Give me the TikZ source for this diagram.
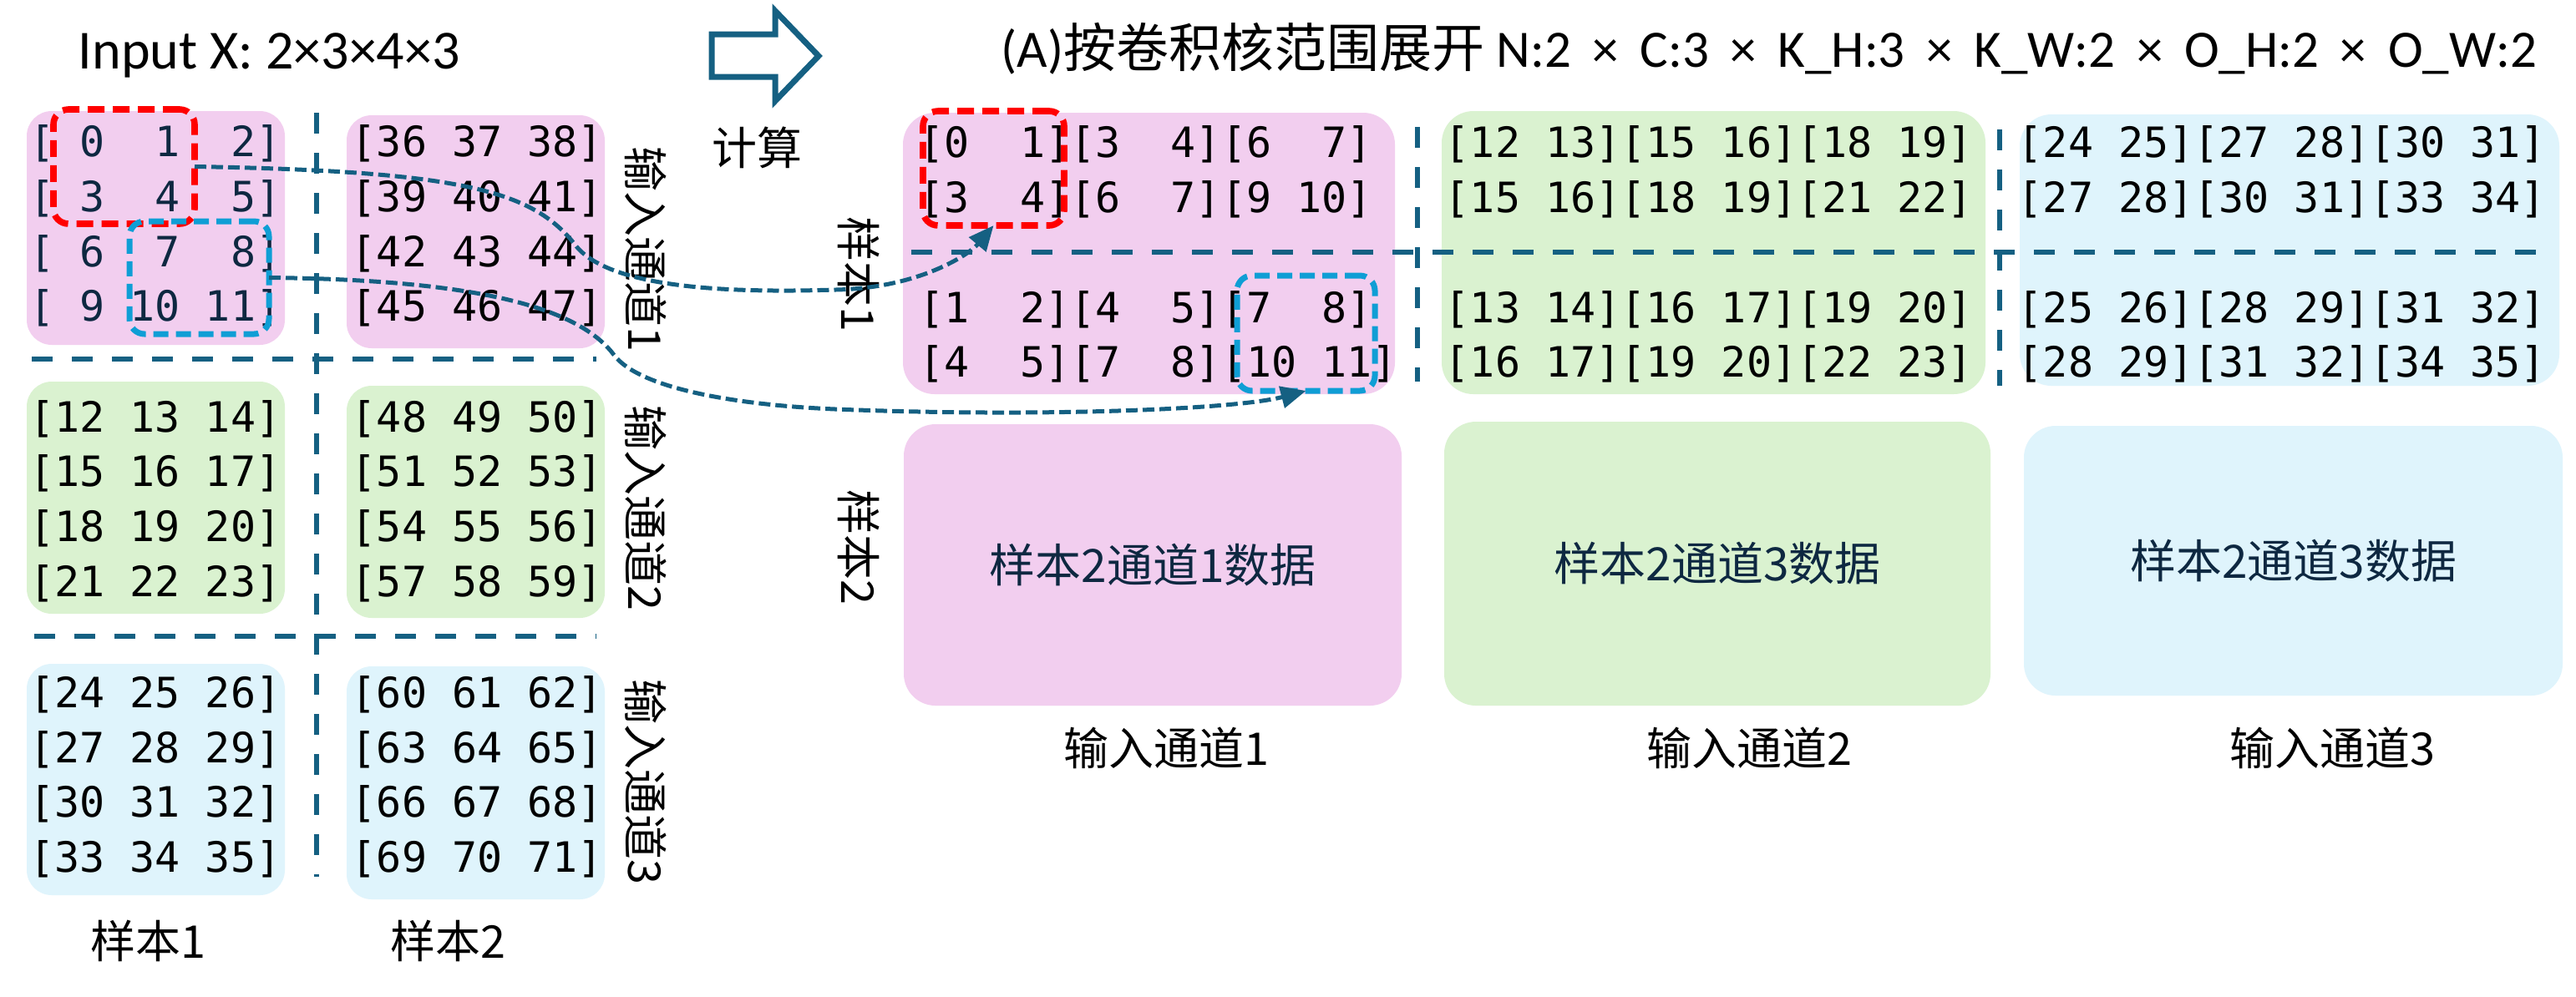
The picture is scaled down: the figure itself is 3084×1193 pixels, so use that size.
\documentclass[tikz,border=0pt]{standalone}
\usepackage{fontspec}
\setmainfont{Carlito}
\setmonofont{DejaVu Sans Mono}
\newfontfamily\cjk{Noto Sans CJK SC}
\newfontfamily\titlefont{Carlito}[WordSpace=1.8]
\usetikzlibrary{arrows.meta}
\definecolor{teal1}{HTML}{156082}
\definecolor{navy}{HTML}{0E2841}
\definecolor{pinkf}{HTML}{F2CEEF}
\definecolor{greenf}{HTML}{DAF2D0}
\definecolor{bluef}{HTML}{DFF4FC}
\definecolor{redd}{HTML}{FF0000}
\definecolor{blued}{HTML}{0F9ED5}
% name, style, x1, y1, x2, y2, text
\newcommand\pxbox[7]{%
  \node[#2, minimum width={(#5-#3)*0.25pt}, minimum height={(#6-#4)*0.25pt}] (#1) at ({(#3+#5)/2},{(#4+#6)/2}) {#7};}
\newcommand\mrow[4]{\node[mtx] (#1) at (#2,#3) {#4};}
\tikzset{
  lbox/.style={rectangle, rounded corners=7.5pt, inner sep=0pt, outer sep=0pt, draw=none},
  rbox/.style={rectangle, rounded corners=9.5pt, inner sep=0pt, outer sep=0pt, draw=none,
    text=navy, font=\cjk\fontsize{13.75}{16}\selectfont},
  redbox/.style={rectangle, rounded corners=4.5pt, draw=redd, line width=1.9pt,
    dash pattern=on 5pt off 2.5pt, inner sep=0pt, outer sep=0pt},
  bluebox/.style={rectangle, rounded corners=4.5pt, draw=blued, line width=1.75pt,
    dash pattern=on 4.5pt off 2.25pt, inner sep=0pt, outer sep=0pt},
  sepline/.style={draw=teal1, line width=1.5pt, dash pattern=on 6.25pt off 5.75pt},
  conn/.style={draw=teal1, line width=1.25pt, dash pattern=on 3.5pt off 1.5pt,
    -{Triangle[length=7.5pt,width=6.5pt]}},
  mtx/.style={font=\ttfamily\fontsize{12.5}{15}\selectfont, inner sep=0pt, anchor=west},
  lab/.style={font=\cjk\fontsize{13.5}{16}\selectfont, inner sep=0pt},
}
\begin{document}
\begin{tikzpicture}[x=0.25pt, y=-0.25pt]
\useasboundingbox (0,0) rectangle (3084,1193);
\fill[white] (0,0) rectangle (3084,1193);

% ---- titles ----
\node[anchor=base west, inner sep=0pt] (inputx) at (93,82)
  {\fontsize{16.5}{19}\selectfont Input X: 2×3×4×3};
\node[anchor=base west, inner sep=0pt] (title) at (1198,80)
  {\titlefont\fontsize{15.75}{18}\selectfont (A){\cjk\fontsize{15.75}{18}\selectfont 按卷积核范围展开}\hspace{3.5pt}N:2 × C:3 × K\_H:3 × K\_W:2 × O\_H:2 × O\_W:2};

% hollow arrow
\draw[teal1, line width=1.75pt, fill=white, line join=miter]
  (852,41) -- (928,41) -- (928,13) -- (980,67) -- (928,121) -- (928,92) -- (852,92) -- cycle;
\node[lab] (calc) at (906,177) {计算};

% ---- left boxes ----
\pxbox{l11}{lbox, fill=pinkf}{32}{133}{341}{413}{}
\pxbox{l21}{lbox, fill=pinkf}{415}{138}{724}{417}{}
\pxbox{l12}{lbox, fill=greenf}{32}{457}{341}{735}{}
\pxbox{l22}{lbox, fill=greenf}{415}{462}{724}{740}{}
\pxbox{l13}{lbox, fill=bluef}{32}{795}{341}{1072}{}
\pxbox{l23}{lbox, fill=bluef}{415}{798}{724}{1077}{}

% ---- left matrices ----
\begin{scope}[every node/.append style={text=navy}]
\mrow{a1}{34.5}{172}{[~0~~1~~2]}
\mrow{a2}{34.5}{238}{[~3~~4~~5]}
\mrow{a3}{34.5}{304}{[~6~~7~~8]}
\mrow{a4}{34.5}{369}{[~9~10~11]}
\end{scope}
\mrow{b1}{34.5}{502}{[12~13~14]}
\mrow{b2}{34.5}{567}{[15~16~17]}
\mrow{b3}{34.5}{633}{[18~19~20]}
\mrow{b4}{34.5}{699}{[21~22~23]}
\mrow{c1}{34.5}{832}{[24~25~26]}
\mrow{c2}{34.5}{898}{[27~28~29]}
\mrow{c3}{34.5}{963}{[30~31~32]}
\mrow{c4}{34.5}{1029}{[33~34~35]}
\mrow{d1}{420}{172}{[36~37~38]}
\mrow{d2}{420}{238}{[39~40~41]}
\mrow{d3}{420}{304}{[42~43~44]}
\mrow{d4}{420}{369}{[45~46~47]}
\mrow{e1}{420}{502}{[48~49~50]}
\mrow{e2}{420}{567}{[51~52~53]}
\mrow{e3}{420}{633}{[54~55~56]}
\mrow{e4}{420}{699}{[57~58~59]}
\mrow{f1}{420}{832}{[60~61~62]}
\mrow{f2}{420}{898}{[63~64~65]}
\mrow{f3}{420}{963}{[66~67~68]}
\mrow{f4}{420}{1029}{[69~70~71]}

% left separators
\draw[sepline] (379,135) -- (379,1050);
\draw[sepline] (38,430) -- (714,430);
\draw[sepline] (41,762) -- (714,762);

% left labels
\node[lab, rotate=-90] (ch1v) at (773,298) {输入通道1};
\node[lab, rotate=-90] (ch2v) at (773,608) {输入通道2};
\node[lab, rotate=-90] (ch3v) at (773,936) {输入通道3};
\node[lab] (s1b) at (177,1127) {样本1};
\node[lab] (s2b) at (536,1127) {样本2};

% ---- right boxes ----
\pxbox{p1}{rbox, fill=pinkf}{1081}{135}{1670}{472}{}
\pxbox{g1}{rbox, fill=greenf}{1726}{133}{2377}{472}{}
\pxbox{q1}{rbox, fill=bluef}{2418}{137}{3064}{462}{}
\pxbox{p2}{rbox, fill=pinkf}{1082}{508}{1678}{845}{样本2通道1数据}
\pxbox{g2}{rbox, fill=greenf}{1729}{505}{2383}{845}{样本2通道3数据}
\pxbox{q2}{rbox, fill=bluef}{2423}{510}{3068}{833}{样本2通道3数据}

% right matrices
\mrow{h1}{1100}{173}{[0~~1][3~~4][6~~7]}
\mrow{h2}{1100}{239}{[3~~4][6~~7][9~10]}
\mrow{h3}{1100}{371}{[1~~2][4~~5][7~~8]}
\mrow{h4}{1100}{436}{[4~~5][7~~8][10~11]}
\mrow{i1}{1729}{173}{[12~13][15~16][18~19]}
\mrow{i2}{1729}{239}{[15~16][18~19][21~22]}
\mrow{i3}{1729}{371}{[13~14][16~17][19~20]}
\mrow{i4}{1729}{436}{[16~17][19~20][22~23]}
\mrow{j1}{2415}{173}{[24~25][27~28][30~31]}
\mrow{j2}{2415}{239}{[27~28][30~31][33~34]}
\mrow{j3}{2415}{371}{[25~26][28~29][31~32]}
\mrow{j4}{2415}{436}{[28~29][31~32][34~35]}

% right separators
\draw[sepline] (1091,302) -- (3044,302);
\draw[sepline] (1697,152) -- (1697,457);
\draw[sepline] (2394,155) -- (2394,462);

% right labels
\node[lab, rotate=-90] (s1v) at (1028,328) {样本1};
\node[lab, rotate=-90] (s2v) at (1028,655) {样本2};
\node[lab] (ch1b) at (1396,896) {输入通道1};
\node[lab] (ch2b) at (2094,896) {输入通道2};
\node[lab] (ch3b) at (2792,896) {输入通道3};

% ---- dashed selection boxes ----
\pxbox{redL}{redbox}{64}{131}{233}{268}{}
\pxbox{blueL}{bluebox}{155}{265}{322}{400}{}
\pxbox{redR}{redbox}{1105}{133}{1274}{270}{}
\pxbox{blueR}{bluebox}{1481}{330}{1646}{468}{}

% ---- connectors ----
\draw[conn] (redL.east) .. controls (560,205) and (640,230) .. (690,295)
  .. controls (735,350) and (900,350) .. (1000,347)
  .. controls (1100,345) and (1160,305) .. (redR.south);
\draw[conn] (blueL.east) .. controls (560,335) and (690,365) .. (735,425)
  .. controls (765,465) and (880,485) .. (1000,490)
  .. controls (1250,500) and (1480,490) .. (blueR.south);
\end{tikzpicture}
\end{document}
